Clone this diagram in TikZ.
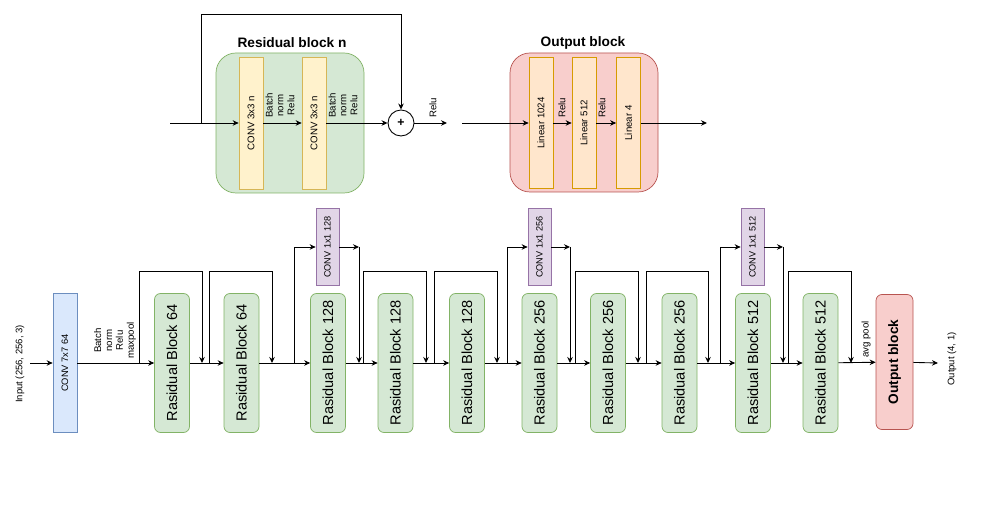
\documentclass[tikz,border=0pt]{standalone}
\usepackage{fontspec}
\setmainfont{Liberation Sans}
\usetikzlibrary{arrows.meta}
\definecolor{rbfill}{HTML}{D5E8D4}
\definecolor{rbdraw}{HTML}{82B366}
\definecolor{cvfill}{HTML}{DAE8FC}
\definecolor{cvdraw}{HTML}{6C8EBF}
\definecolor{scfill}{HTML}{E1D5E7}
\definecolor{scdraw}{HTML}{9673A6}
\definecolor{obfill}{HTML}{F8CECC}
\definecolor{obdraw}{HTML}{B85450}
\definecolor{lyfill}{HTML}{FFF2CC}
\definecolor{lydraw}{HTML}{D6B656}
\definecolor{lnfill}{HTML}{FFE6CC}
\definecolor{lndraw}{HTML}{D79B00}
\tikzset{
  blk-rb/.style={draw=rbdraw,fill=rbfill,rounded corners=1.2mm,rotate=90,minimum width=27.8mm,minimum height=7mm,inner sep=0pt,font=\fontsize{8.3}{10}\selectfont},
  blk-cv/.style={draw=cvdraw,fill=cvfill,rotate=90,minimum width=27.8mm,minimum height=4.8mm,inner sep=0pt,font=\fontsize{5.3}{6.5}\selectfont},
  blk-sc/.style={draw=scdraw,fill=scfill,rotate=90,minimum width=15.4mm,minimum height=4.6mm,inner sep=0pt,font=\fontsize{5.2}{6.5}\selectfont},
  blk-ob/.style={draw=obdraw,fill=obfill,rounded corners=1.2mm,rotate=90,minimum width=27mm,minimum height=7.4mm,inner sep=0pt,font=\bfseries\fontsize{7.8}{9}\selectfont},
  grp-rb/.style={draw=rbdraw,fill=rbfill,rounded corners=4mm,minimum width=29.6mm,minimum height=28mm,inner sep=0pt},
  grp-ob/.style={draw=obdraw,fill=obfill,rounded corners=4mm,minimum width=29.6mm,minimum height=27.8mm,inner sep=0pt},
  lyr-cv/.style={draw=lydraw,fill=lyfill,rotate=90,minimum width=26.4mm,minimum height=4.8mm,inner sep=0pt,font=\fontsize{5.5}{6.5}\selectfont},
  lyr-ln/.style={draw=lndraw,fill=lnfill,rotate=90,minimum width=26.2mm,minimum height=4.8mm,inner sep=0pt,font=\fontsize{5.5}{6.5}\selectfont},
  sum-op/.style={draw,circle,fill=white,minimum size=5.2mm,inner sep=0pt,line width=0.5pt,font=\bfseries\fontsize{7}{8}\selectfont},
  conn/.style={-{Stealth[length=1.2mm,width=1.1mm]},line width=0.5pt},
  lbl/.style={rotate=90,anchor=west,align=center,inner sep=0.5pt,font=\fontsize{5.5}{6.2}\selectfont},
  io/.style={rotate=90,inner sep=0pt,font=\fontsize{5.4}{6.5}\selectfont},
  ttl/.style={font=\bfseries\fontsize{7.8}{9}\selectfont},
}

\begin{document}
\begin{tikzpicture}[x=0.2mm,y=-0.2mm]

  \fill[white] (0,0) rectangle (984,515);
  \useasboundingbox (0,0) rectangle (984,515);

  % TOP: residual block n
  \node[grp-rb] (grb) at (290,123) {};
  \node[ttl] (trb) at (292,43) {Residual block n};
  \node[lyr-cv] (cv1) at (251,123) {CONV 3x3 n};
  \node[lyr-cv] (cv2) at (314,123) {CONV 3x3 n};
  \node[sum-op] (add) at (401,123) {+};
  \coordinate (rin)  at (170,123);
  \coordinate (rsk)  at (201,123);
  \coordinate (rtop) at (0,14);
  \coordinate (rout) at (447,123);
  \draw[conn] (rin) -- (cv1);
  \draw[conn] (cv1) -- (cv2);
  \draw[conn] (cv2) -- (add);
  \draw[conn] (add) -- (rout);
  \draw[conn] (rsk) -- (rsk |- rtop) -| (add);
  \node[lbl] at (280,119) {Batch\\norm\\Relu};
  \node[lbl] at (343,119) {Batch\\norm\\Relu};
  \node[lbl] at (433,119) {Relu};

  % TOP: output block
  \node[grp-ob] (gob) at (584,122.5) {};
  \node[ttl] (tob) at (583,43) {Output block};
  \node[lyr-ln] (ln1) at (541,123) {Linear 1024};
  \node[lyr-ln] (ln2) at (584,123) {Linear 512};
  \node[lyr-ln] (ln3) at (628.5,123) {Linear 4};
  \coordinate (oin)  at (462,123);
  \coordinate (oout) at (707,123);
  \draw[conn] (oin) -- (ln1);
  \draw[conn] (ln1) -- (ln2);
  \draw[conn] (ln2) -- (ln3);
  \draw[conn] (ln3) -- (oout);
  \node[lbl] at (562,119) {Relu};
  \node[lbl] at (602,119) {Relu};

  % BOTTOM: main chain
  \node[blk-cv] (c7)   at (65,363)    {CONV 7x7 64};
  \node[blk-rb] (rb1)  at (172,363)   {Rasidual Block 64};
  \node[blk-rb] (rb2)  at (241.5,363) {Rasidual Block 64};
  \node[blk-rb] (rb3)  at (328,363)   {Rasidual Block 128};
  \node[blk-rb] (rb4)  at (395.5,363) {Rasidual Block 128};
  \node[blk-rb] (rb5)  at (467,363)   {Rasidual Block 128};
  \node[blk-rb] (rb6)  at (539.5,363) {Rasidual Block 256};
  \node[blk-rb] (rb7)  at (608,363)   {Rasidual Block 256};
  \node[blk-rb] (rb8)  at (679.5,363) {Rasidual Block 256};
  \node[blk-rb] (rb9)  at (753,363)   {Rasidual Block 512};
  \node[blk-rb] (rb10) at (820.5,363) {Rasidual Block 512};
  \node[blk-ob] (ob)   at (894.5,362) {Output block};
  \node[blk-sc] (sc1)  at (327.5,247) {CONV 1x1 128};
  \node[blk-sc] (sc2)  at (539.5,247) {CONV 1x1 256};
  \node[blk-sc] (sc3)  at (752.5,247) {CONV 1x1 512};
  \node[io] (tin)  at (20,364)  {Input (256, 256, 3)};
  \node[io] (tout) at (952,359) {Output (4, 1)};
  \coordinate (in)  at (30,363);
  \coordinate (out) at (938,363);
  \draw[conn] (in)   -- (c7);
  \draw[conn] (c7)   -- (rb1);
  \draw[conn] (rb1)  -- (rb2);
  \draw[conn] (rb2)  -- (rb3);
  \draw[conn] (rb3)  -- (rb4);
  \draw[conn] (rb4)  -- (rb5);
  \draw[conn] (rb5)  -- (rb6);
  \draw[conn] (rb6)  -- (rb7);
  \draw[conn] (rb7)  -- (rb8);
  \draw[conn] (rb8)  -- (rb9);
  \draw[conn] (rb9)  -- (rb10);
  \draw[conn] (rb10) -- (ob);
  \draw[conn] (ob)   -- (out);
  \node[lbl] at (115,360) {Batch\\norm\\Relu\\maxpool};
  \node[lbl] at (866,359) {avg pool};

  % BOTTOM: identity skips
  \coordinate (ktop) at (0,271);
  \coordinate (ka1) at (139,363);  \coordinate (kb1) at (202,363);
  \coordinate (ka2) at (209,363);  \coordinate (kb2) at (272,363);
  \coordinate (ka3) at (363,363);  \coordinate (kb3) at (426,363);
  \coordinate (ka4) at (434,363);  \coordinate (kb4) at (497,363);
  \coordinate (ka5) at (575,363);  \coordinate (kb5) at (638,363);
  \coordinate (ka6) at (646,363);  \coordinate (kb6) at (708,363);
  \coordinate (ka7) at (788,363);  \coordinate (kb7) at (851,363);
  \draw[conn] (ka1) -- (ka1 |- ktop) -| (kb1);
  \draw[conn] (ka2) -- (ka2 |- ktop) -| (kb2);
  \draw[conn] (ka3) -- (ka3 |- ktop) -| (kb3);
  \draw[conn] (ka4) -- (ka4 |- ktop) -| (kb4);
  \draw[conn] (ka5) -- (ka5 |- ktop) -| (kb5);
  \draw[conn] (ka6) -- (ka6 |- ktop) -| (kb6);
  \draw[conn] (ka7) -- (ka7 |- ktop) -| (kb7);

  % BOTTOM: projection shortcuts
  \coordinate (sa1) at (294,363);  \coordinate (sm1) at (359,247);  \coordinate (sb1) at (359,363);
  \coordinate (sa2) at (507,363);  \coordinate (sm2) at (570,247);  \coordinate (sb2) at (570,363);
  \coordinate (sa3) at (720,363);  \coordinate (sm3) at (783,247);  \coordinate (sb3) at (783,363);
  \draw[conn] (sa1) |- (sc1);
  \draw[conn] (sc1) -- (sm1);
  \draw[conn] (sm1) -- (sb1);
  \draw[conn] (sa2) |- (sc2);
  \draw[conn] (sc2) -- (sm2);
  \draw[conn] (sm2) -- (sb2);
  \draw[conn] (sa3) |- (sc3);
  \draw[conn] (sc3) -- (sm3);
  \draw[conn] (sm3) -- (sb3);

\end{tikzpicture}
\end{document}
